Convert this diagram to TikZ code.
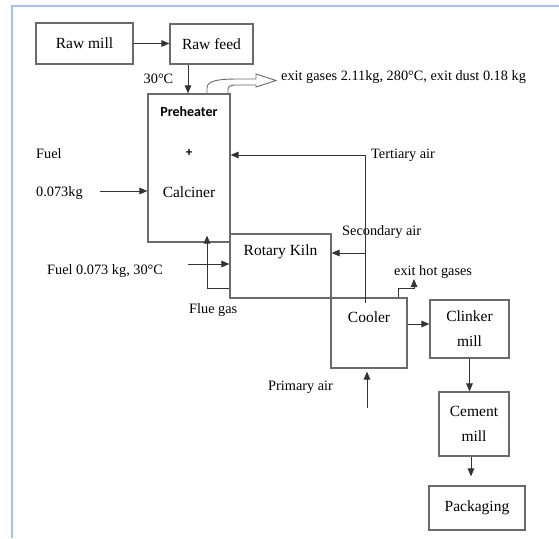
\documentclass[tikz,border=0pt]{standalone}
\usepackage{fontspec}
\setmainfont{Liberation Serif}
\newfontfamily\labelsans{Carlito}
\usetikzlibrary{arrows.meta}
\definecolor{frameblue}{HTML}{A9C1E8}
\definecolor{boxgray}{HTML}{6A6A6A}
\definecolor{flowgray}{HTML}{333333}
\tikzset{
	unit/.style={draw=boxgray, line width=1.1pt, inner sep=0pt, align=center, font=\fontsize{15.5}{25}\selectfont},
	unittext/.style={inner sep=0pt, font=\fontsize{15.5}{18}\selectfont},
	tag/.style={inner sep=0pt, font=\fontsize{14.3}{17}\selectfont},
	flow/.style={draw=flowgray, line width=1pt}
}
\begin{document}
\begin{tikzpicture}[x=1pt, y=-1pt, >={Triangle[length=8pt,width=6.5pt]}]
			\useasboundingbox (0,0) rectangle (559,538);
			\draw[frameblue, line width=2pt] (12,538) -- (12,6) -- (559,6);
			
			% process units
			\node[unit, minimum width=97pt, minimum height=41pt] (rawmill) at (84.5,43.5) {Raw mill};
			\node[unit, minimum width=83pt, minimum height=40pt] (rawfeed) at (211.5,44) {Raw feed};
			\node[unit, minimum width=82pt, minimum height=148pt] (preheat) at (189,168) {};
			\node[unit, minimum width=101pt, minimum height=64pt] (kiln) at (280.5,266) {};
			\node[unit, minimum width=76pt, minimum height=70pt] (cooler) at (369,333) {};
			\node[unit, minimum width=79pt, minimum height=58pt] (clinker) at (469.5,329) {Clinker\\mill};
			\node[unit, minimum width=70pt, minimum height=64pt] (cement) at (474,424) {Cement\\mill};
			\node[unit, minimum width=96pt, minimum height=44pt] (pack) at (477,508) {Packaging};
			
			\node[inner sep=0pt, font=\labelsans\bfseries\fontsize{14}{16}\selectfont] (phname) at (189,112) {Preheater};
			\node[inner sep=0pt, font=\labelsans\bfseries\fontsize{13}{15}\selectfont] (phplus) at (189,153) {+};
			\node[unittext] (calcname) at (189,192) {Calciner};
			\node[unittext] (kilnname) at (280.5,252) {Rotary Kiln};
			\node[unittext] (coolname) at (369,317) {Cooler};
			
			% stream labels
			\node[tag, anchor=west] (fuel) at (36,154) {Fuel};
			\node[tag, anchor=west] (fuelmass) at (36,193) {0.073kg};
			\node[tag] (feedtemp) at (158.5,79) {30°C};
			\node[tag, anchor=west] (exitgas) at (281,77) {exit gases 2.11kg, 280°C, exit dust 0.18 kg};
			\node[tag, anchor=west] (tertair) at (371,155) {Tertiary air};
			\node[tag, anchor=west] (secair) at (342,232) {Secondary air};
			\node[tag, anchor=west] (hotgas) at (394,272) {exit hot gases};
			\node[tag, anchor=west] (fuelkiln) at (47,271) {Fuel 0.073 kg, 30°C};
			\node[tag, anchor=west] (fluegas) at (189,310) {Flue gas};
			\node[tag, anchor=west] (primair) at (268,387) {Primary air};
			
			% connectors
			\coordinate (feedx) at (188,0);
			\coordinate (fuelin) at (100,191);
			\coordinate (tert) at (365,155);
			\coordinate (sec) at (365,253);
			\coordinate (fuelk) at (188,264);
			\coordinate (flue) at (207,288);
			\coordinate (hot) at (398,288);
			\coordinate (clk) at (0,324);
			\coordinate (prim) at (367,408);
			\coordinate (packx) at (471,0);
			
			\draw[flow, ->] (rawmill.east) -- (rawmill.east -| rawfeed.west);
			\draw[flow, ->] (rawfeed.south -| feedx) -- (preheat.north -| feedx);
			\draw[flow, ->] (fuelin) -- (fuelin -| preheat.west);
			\draw[flow, ->] (tert) -- (tert -| preheat.east);
			\draw[flow] (tert) -- ([yshift=-6pt]tert |- cooler.north);
			\draw[flow, ->] (sec) -- (sec -| kiln.east);
			\draw[flow, ->] (fuelk) -- (fuelk -| kiln.west);
			\draw[flow, ->] (flue -| kiln.west) -- (flue) -- ([yshift=7pt]flue |- preheat.south);
			\draw[flow, ->] (hot |- cooler.north) -- (hot) -- ++(16,0) -- ++(0,-9);
			\draw[flow, ->] (cooler.east |- clk) -- (clinker.west |- clk);
			\draw[flow, ->, shorten >=3pt] (prim) -- (prim |- cooler.south);
			\draw[flow, ->] (clinker.south) -- (clinker.south |- cement.north);
			\draw[flow, ->, shorten >=9pt] (cement.south -| packx) -- (pack.north -| packx);
			
			% hollow exit gas arrow
			\draw[boxgray, line width=0.9pt] (207,94) -- (207,88) .. controls (207,80) and (220,79) .. (240,79) -- (256,79) -- (256,74) -- (276,80.5) -- (256,87) -- (256,85) -- (236,85) .. controls (229,85) and (228,87) .. (228,90) -- (228,94);
		\end{tikzpicture}
\end{document}
